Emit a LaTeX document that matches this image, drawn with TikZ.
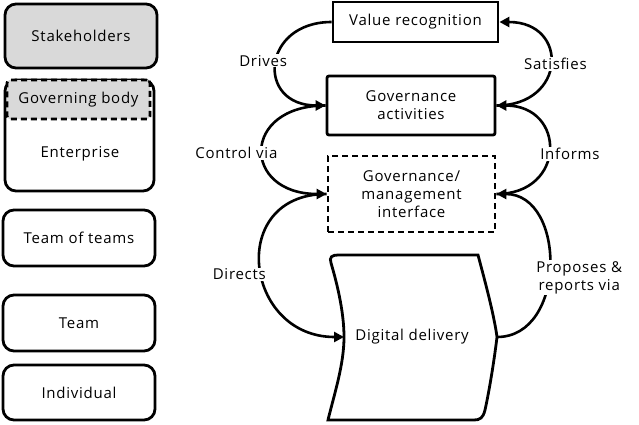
\documentclass[tikz,border=0pt]{standalone}
\usepackage{fontspec}
\setmainfont[LetterSpace=5]{Open Sans}
\usetikzlibrary{arrows.meta}
\begin{document}
\begin{tikzpicture}[x=1pt,y=-1pt,
  txt/.style={font=\fontsize{15}{18}\selectfont, align=center, text=black},
  lvl/.style={txt, draw, line width=2.8pt, rounded corners=11pt, fill=white, minimum width=152pt, inner sep=0pt},
  grayfill/.style={fill=black!15},
  dbox/.style={txt, draw, line width=2.8pt, fill=white, inner sep=0pt},
  dash box/.style={dash pattern=on 6pt off 4pt},
  conn/.style={line width=2.6pt, -{Triangle[length=10pt,width=10pt]}},
  lbl/.style={txt, fill=white, inner sep=1pt}]
\useasboundingbox (0,0) rectangle (639,424);
% left column
\node[lvl, grayfill, minimum height=64pt] (stk) at (81,36) {Stakeholders};
\node[lvl, minimum width=149pt, minimum height=111pt] (ent) at (79.5,135.5) {};
\node[dbox, dash box, grayfill, rounded corners=3pt, minimum width=143pt, minimum height=39pt] (gb) at (78.5,99.5) {Governing body};
\node[txt] (entt) at (80,154) {Enterprise};
\node[lvl, minimum height=56pt] (tot) at (79,238) {Team of teams};
\node[lvl, minimum height=56pt] (team) at (79,323) {Team};
\node[lvl, minimum height=55pt] (ind) at (79,392.5) {Individual};
% right column
\node[dbox, minimum width=165pt, minimum height=40pt] (vr) at (415.5,22) {Value recognition};
\node[dbox, rounded corners=2pt, minimum width=168pt, minimum height=59pt] (ga) at (411,105.5) {Governance\\activities};
\node[dbox, dash box, minimum width=167pt, minimum height=76pt] (gi) at (411.5,194) {Governance/\\management\\interface};
\draw[line width=2.8pt, fill=white] (338,255) -- (478,255)
  .. controls (486,285) and (494,315) .. (497,337)
  .. controls (494,362) and (489,392) .. (485,410)
  .. controls (483,418) and (480,420) .. (474,420) -- (328,420)
  .. controls (334,395) and (344,365) .. (344,337)
  .. controls (344,310) and (336,280) .. (331,263)
  .. controls (329,257) and (332,255) .. (338,255) -- cycle;
\coordinate (ddL) at (344,337);
\coordinate (ddR) at (497,337);
\node[txt] (dd) at (412,337) {Digital delivery};
% connectors
\draw[conn] (vr.west) .. controls +(-70,0) and +(-70,0) .. node[lbl, pos=0.5, xshift=-13pt, yshift=3pt] (l1) {Drives} (ga.west);
\draw[conn] (ga.west) .. controls +(-85,0) and +(-85,0) .. node[lbl, pos=0.5, xshift=-26pt, yshift=-3pt] (l2) {Control via} (gi.west);
\draw[conn] (gi.west) .. controls +(-100,0) and +(-100,0) .. node[lbl, pos=0.5, xshift=-21pt, yshift=-9pt] (l3) {Directs} (ddL);
\draw[conn] (ga.east) .. controls +(70,0) and +(70,0) .. node[lbl, pos=0.5, xshift=5pt] (l4) {Satisfies} (vr.east);
\draw[conn] (gi.east) .. controls +(70,0) and +(70,0) .. node[lbl, pos=0.5, xshift=21pt, yshift=-4pt] (l5) {Informs} (ga.east);
\draw[conn] (ddR) .. controls +(70,0) and +(70,0) .. node[lbl, pos=0.5, xshift=30pt, yshift=-12pt] (l6) {Proposes \&\\reports via} (gi.east);
\end{tikzpicture}
\end{document}
